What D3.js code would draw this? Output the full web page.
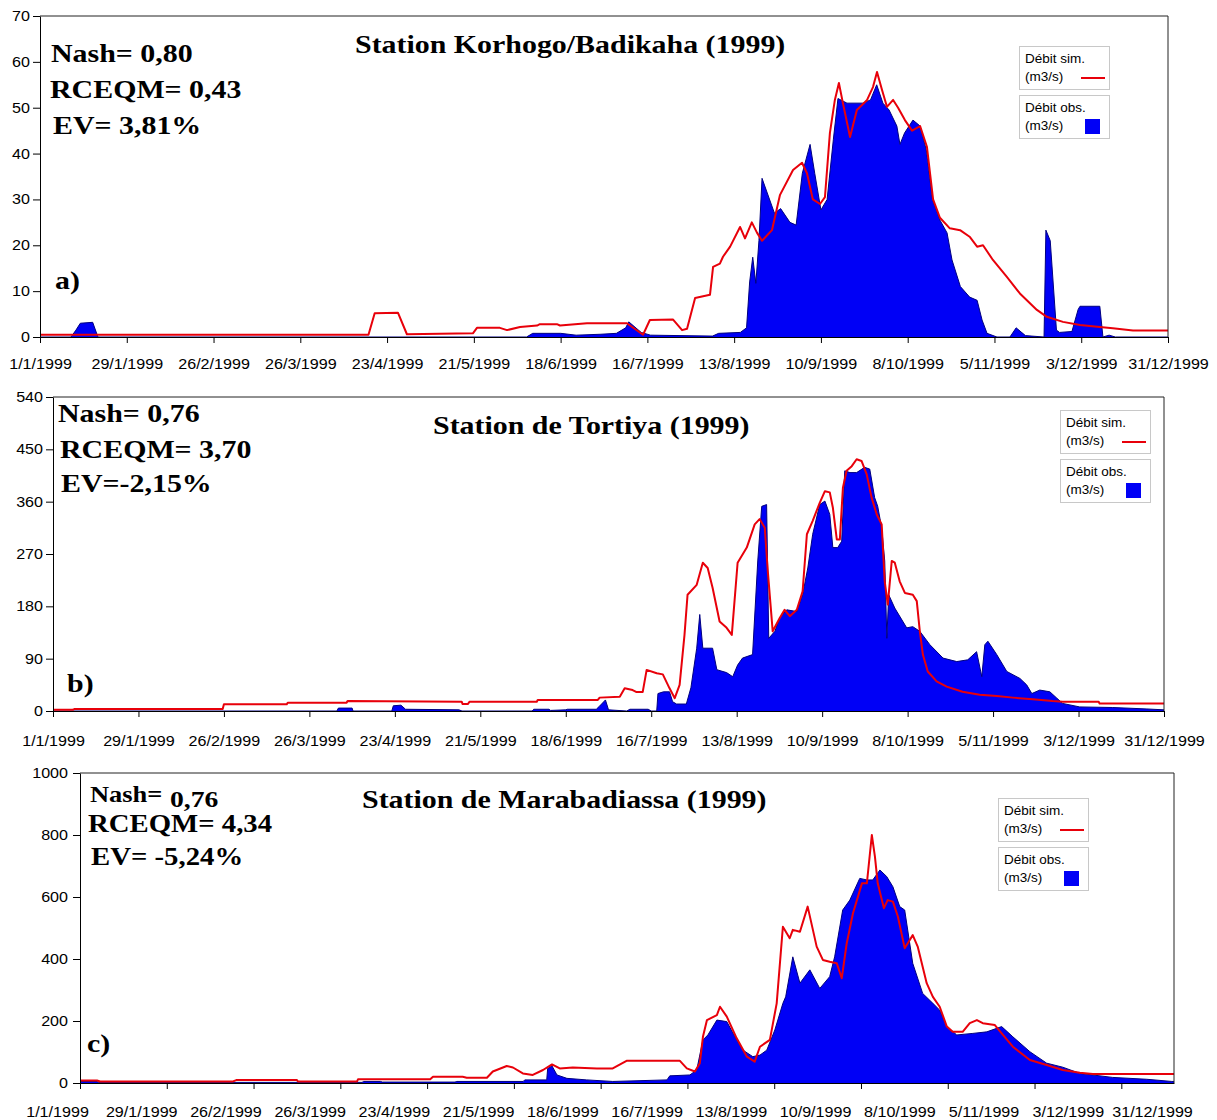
<!DOCTYPE html>
<html>
<head>
<meta charset="utf-8">
<script src="https://cdn.jsdelivr.net/npm/d3@7"></script>
<style>
  body { margin: 0; background: #fff; }
  text { fill: #000; }
</style>
</head>
<body>
<svg id="chart" width="1217" height="1120"></svg>
<script>
// day of year (0 = 1/1/1999), discharge m3/s
const simA = [[0,0.5],[106,0.5],[108,5.2],[115.5,5.3],[118.4,0.6],[139.7,0.8],[141,2],[148.4,2],[150.7,1.5],[154.9,2.2],[160.4,2.5],[161.3,2.8],[166.8,2.8],[167.8,2.5],[176.5,3],[189.4,3],[194.6,0.5],[196.8,3.7],[204.3,3.8],[207.2,1.5],[208.8,1.8],[211.4,8.5],[216.2,9.2],[217.2,15.3],[219.4,16],[220.4,17.5],[222.7,19.7],[225.9,24],[227.5,21.5],[229.7,25],[231.4,22.7],[233,21],[236.2,23.3],[238.8,31],[243,36.4],[245.9,38],[247.5,35.7],[249.4,30],[251.7,29],[253.3,30.5],[254.9,44.5],[256.5,51.7],[257.8,55.4],[259.1,51],[261.4,43.6],[263.6,49.5],[266.9,51.7],[268.8,54.5],[270.1,57.8],[271.7,53.9],[273.3,50.2],[275.3,51.7],[276.9,50],[279.1,47.3],[281.4,45],[284,46],[286.2,41.5],[288.2,30],[290.4,26],[293.6,23.7],[296.9,23.3],[300.1,21.8],[302.4,19.7],[304.3,20],[307.5,16.8],[312,13.1],[316.2,9.5],[321.7,5.9],[324.9,4.4],[330.1,3.3],[335.6,2.6],[342,2.2],[346.2,1.9],[352.7,1.4],[364,1.4]]
const obsA = [[0,0],[10,0],[11.6,1.5],[13,3],[17,3.2],[18.7,0],[157,0],[159,0.8],[168,0.8],[173,0.4],[181,0.6],[186,0.8],[189,2],[190,3.3],[194,1],[197,0.4],[217,0.2],[219,0.8],[226,1],[228,2],[229,12],[230,17.4],[231,11.7],[232,21],[233,34.6],[237,27],[239,28],[242,25],[244,24.4],[246,35.7],[248.5,42],[250,35.7],[252,27.7],[254,30],[256,43],[257.5,52],[260.4,51],[265.6,51],[268,51.7],[270,55],[272,51],[274,49.5],[276.5,46],[277.5,42],[279,44.5],[281.7,47.3],[284,46],[286,40.8],[288,30],[290.4,25.5],[292.7,22.7],[294.3,16.8],[297,11],[300,8.7],[302.4,8],[304,3.7],[305.6,0.8],[308.8,0],[313,0],[315,2],[318,0.3],[324,0],[324.6,23.3],[326,21],[328,1.5],[329,1],[333,1.2],[335,6],[335.6,6.7],[342,6.7],[343,0],[345,0.4],[347,0],[364,0]]

const simB = [[0,2],[6.5,2],[7.1,3.5],[55.6,3.5],[56,11.5],[76.6,11.5],[76.9,14.4],[96.2,14.4],[96.5,17],[133.9,16],[134.2,12],[135.9,12],[136.5,16],[158.5,16],[158.8,19],[178.5,19],[179.1,23],[185.7,24.7],[187.3,39],[189.9,36],[191.2,32.5],[193.2,32.5],[194.5,70.7],[197.8,65],[199.8,63],[202,39],[203.7,22],[205.3,45],[206.9,131],[207.9,200],[210.9,217],[212.9,255],[214.5,246],[216.1,212],[218.4,154],[220.7,143],[222.4,131],[224.3,255],[227.3,281],[229.9,321],[231.5,330],[233.2,315],[234.2,240],[235.8,137],[238.1,160],[239.7,174],[241.4,163],[243.7,174],[245.6,206],[247,304],[248.9,327],[251.2,358],[252.9,378],[254.5,376],[255.5,350],[256.8,295],[257.8,295],[258.8,384],[260,413],[261.7,421],[263.3,433],[264.9,430],[266.6,407],[268.2,367],[269.9,338],[271.5,321],[272.5,223],[273.5,183],[274.8,258],[275.8,255],[277.4,223],[279.1,203],[281.7,200],[283,189],[284,137],[285,97],[286.6,68],[289.5,51],[292.8,42],[298,33],[303.6,28],[309.2,26],[314.5,23],[321,20],[327.5,17],[330.8,16],[342.6,16],[342.9,13],[364,13]]
const obsB = [[0,0],[93,0],[93.5,5],[98,5],[98.3,0],[111,0],[111.5,9],[114,10],[115.5,3],[133,2],[134,0],[157,0],[157.5,3],[162.5,3],[163,1],[168,2],[168.5,3],[178,3],[179,8],[181,19],[182,2],[188,0],[189,3],[195,3],[196,0],[197.8,0],[198.2,30],[200,33],[202,33],[203,16],[204.3,12],[207.5,12],[209,40],[210.9,108],[211.9,166],[212.9,108],[216.1,108],[217.5,71],[220.7,66],[222.7,59],[224.3,79],[225.9,91],[229.2,97],[230.9,258],[232.2,352],[233.8,355],[234.5,125],[236.5,137],[238.1,160],[240.4,174],[243.7,171],[245.6,200],[247.3,246],[248.9,304],[251.2,355],[252.9,361],[254.5,338],[255.5,281],[257.1,281],[258.4,292],[259.4,413],[261.1,410],[263.3,410],[265.9,419],[267.6,416],[269.2,367],[270.2,352],[271.5,315],[272.5,258],[273.2,125],[273.8,200],[275.8,177],[279.7,143],[281.7,145],[284,137],[287.3,114],[291.6,91],[296.1,85],[299.7,88],[302.6,102],[304.3,59],[305.3,114],[306.3,120],[309.2,97],[312.5,68],[316.8,56],[319,45],[320.7,30],[323.3,36],[326.6,33],[328.9,22],[330.8,13],[336.4,7],[347.2,6],[358.4,3.5],[364,2]]

const simC = [[0,8],[5.5,8],[6.5,5],[49.4,5],[50.6,10],[70,10],[70.3,5],[89.4,5],[89.7,12],[113,12],[113.9,20],[123.5,20],[124.8,17],[131.3,17],[133.2,37],[137.7,55],[139.7,50],[142.9,31],[146.1,26],[149.4,42],[152.3,60],[154.8,47],[159,50],[166.8,47],[171.9,47],[176.5,72],[193.5,72],[195.8,47],[198.4,37],[200,64],[201,149],[202.3,203],[205.5,219],[206.5,246],[208.7,214],[211.9,144],[215.2,85],[217.7,69],[219.4,117],[222.6,139],[224.8,257],[226.8,504],[229,467],[230,494],[232.3,488],[234.8,569],[237.7,440],[239.7,397],[241.9,391],[244.2,386],[245.8,338],[247.4,451],[249.4,547],[252.3,644],[253.9,644],[255.5,800],[256.5,730],[257.4,644],[259.4,564],[260.6,590],[262.3,585],[263.9,537],[266.1,435],[267.1,451],[268.7,477],[270.3,440],[273.2,322],[275.2,278],[277.4,246],[279.7,182],[281.6,165],[284.8,165],[287.1,193],[289.4,203],[291.3,193],[295.2,187],[297.4,160],[301,117],[306.5,74],[311.9,58],[317.1,42],[322.6,33],[326.8,29],[353,29]]
const obsC = [[0,5],[5.5,5],[6,2],[91,2],[91.5,5],[97,5],[97.5,3],[121,3],[121.6,5],[143,5],[143.5,10],[150.6,10],[150.9,47],[152.3,55],[153.9,26],[157.1,15],[163.5,10],[171.9,5],[189.4,10],[190.3,23],[196.8,26],[199,42],[201,139],[202.6,155],[205.5,203],[208.7,198],[211.9,139],[213.9,106],[217.1,85],[219.4,90],[221.6,106],[224.2,171],[226.8,257],[227.7,278],[230,407],[232.3,322],[235.5,365],[238.7,305],[241.9,343],[243.5,407],[246.1,558],[248.4,590],[251.6,660],[253.9,655],[255.8,655],[258.1,687],[260.3,666],[262.3,633],[264.5,569],[266.1,558],[268.7,386],[271.9,289],[275.2,257],[277.4,235],[279.7,182],[282.9,155],[288.1,160],[292.6,165],[297.4,182],[301,149],[306.5,101],[311.9,64],[317.1,51],[322.6,31],[333.2,18],[344.2,12],[352.3,5],[353,5]]

const yTicksA = [0, 10, 20, 30, 40, 50, 60, 70]
const yTicksB = [0, 90, 180, 270, 360, 450, 540]
const yTicksC = [0, 200, 400, 600, 800, 1000]
const dateTicks = d3.range(0, 365, 28)   // 1/1 ... 31/12, every 4 weeks

const titles = ['Station Korhogo/Badikaha (1999)', 'Station de Tortiya (1999)', 'Station de Marabadiassa (1999)']
const statsA = ['Nash= 0,80', 'RCEQM= 0,43', 'EV= 3,81%']
const statsB = ['Nash= 0,76', 'RCEQM= 3,70', 'EV=-2,15%']
const statsC = ['Nash=', '0,76', 'RCEQM= 4,34', 'EV= -5,24%']
const tags = ['a)', 'b)', 'c)']
const legendSim = ['Débit sim.', '(m3/s)']
const legendObs = ['Débit obs.', '(m3/s)']

// layout (pixel positions of each panel); stats entries are [x, baseline, font size]
const SX = 1.15   // the source picture is stretched horizontally
const layout = [
  { l: 40, r: 1168, t: 16, b: 337, yMax: 70, dayEnd: 364, yPad: 3, xPad: 16,
    title: [355, 53], stats: [[51, 62, 26], [50, 98, 26], [53, 134, 26]], tag: [55, 289], legend: [1019, 46] },
  { l: 53, r: 1164, t: 397, b: 711, yMax: 540, dayEnd: 364, yPad: 3, xPad: 19,
    title: [433, 434], stats: [[58, 422, 26], [60, 458, 26], [61, 492, 26]], tag: [67, 692], legend: [1060, 410] },
  { l: 80, r: 1174, t: 773, b: 1083, yMax: 1000, dayEnd: 353, yPad: 5, xPad: 24,
    title: [362, 808], stats: [[90, 802, 23], [170, 807, 24], [88, 832, 25], [91, 865, 25]], tag: [87, 1052], legend: [998, 798],
    labelRange: [57, 1152] }
]

const svg = d3.select('#chart')
const fmt = d3.timeFormat('%-d/%-m/%Y')
const dayLabel = d => fmt(new Date(1999, 0, 1 + d))

function stretch (sel) {
  sel.each(function () {
    this.setAttribute('textLength', this.getComputedTextLength() * SX)
    this.setAttribute('lengthAdjust', 'spacingAndGlyphs')
  })
}

function bigText (g, str, pos, size) {
  return g.append('text')
    .attr('x', pos[0]).attr('y', pos[1])
    .attr('font-family', '"Liberation Serif", "Times New Roman", serif')
    .attr('font-weight', 'bold')
    .attr('font-size', size || 26)
    .text(str)
    .call(stretch)
}

function drawPanel (p, sim, obs, yTicks, title, stats, tag) {
  const x = d3.scaleLinear().domain([0, p.dayEnd]).range([p.l, p.r])
  const y = d3.scaleLinear().domain([0, p.yMax]).range([p.b, p.t])
  const g = svg.append('g')

  // observed flow, filled
  g.append('path').datum(obs)
    .attr('d', d3.area().x(d => x(d[0])).y0(y(0)).y1(d => y(d[1])))
    .attr('fill', '#0000f6')
  g.append('path').datum(obs)
    .attr('d', d3.line().x(d => x(d[0])).y(d => y(d[1])))
    .attr('fill', 'none').attr('stroke', '#000080').attr('stroke-width', 1)

  // simulated flow
  g.append('path').datum(sim)
    .attr('d', d3.line().x(d => x(d[0])).y(d => y(d[1])))
    .attr('fill', 'none').attr('stroke', '#e8000a').attr('stroke-width', 2)
    .attr('stroke-linejoin', 'round')

  // frame top / right
  g.append('path')
    .attr('d', `M${p.l},${p.t}H${p.r}V${p.b}`)
    .attr('fill', 'none').attr('stroke', '#222')

  const xAxis = d3.axisBottom(x)
    .tickValues(dateTicks.filter(d => d <= p.dayEnd))
    .tickSize(6).tickSizeOuter(0).tickPadding(p.xPad)
    .tickFormat(p.labelRange ? '' : dayLabel)
  const gx = g.append('g').attr('transform', `translate(0,${p.b})`).call(xAxis)

  const yAxis = d3.axisLeft(y).tickValues(yTicks)
    .tickSize(7).tickSizeOuter(0).tickPadding(p.yPad)
    .tickFormat(d3.format('d'))
  const gy = g.append('g').attr('transform', `translate(${p.l},0)`).call(yAxis)

  // bottom panel: labels are spread on their own spacing
  let gl = null
  if (p.labelRange) {
    const xl = d3.scaleLinear().domain([0, 364]).range(p.labelRange)
    gl = g.append('g').attr('transform', `translate(0,${p.b})`)
      .call(d3.axisBottom(xl).tickValues(dateTicks).tickSize(0).tickPadding(p.xPad).tickFormat(dayLabel))
    gl.select('.domain').remove()
  }

  for (const a of [gx, gy, gl]) {
    if (!a) continue
    a.attr('font-family', '"Liberation Sans", Arial, sans-serif').attr('font-size', 14)
    a.selectAll('path, line').attr('stroke', '#000')
    a.selectAll('text').call(stretch)
  }

  bigText(g, title, p.title)
  stats.forEach((s, i) => bigText(g, s, p.stats[i], p.stats[i][2]))
  bigText(g, tag, p.tag)

  // legend
  const [lx, ly] = p.legend
  const items = [{ lab: legendSim, kind: 'line' }, { lab: legendObs, kind: 'box' }]
  items.forEach((it, i) => {
    const top = ly + i * 49
    const lg = g.append('g').attr('transform', `translate(${lx},${top})`)
    lg.append('rect').attr('x', 0.5).attr('y', 0.5).attr('width', 90).attr('height', 43)
      .attr('fill', '#fff').attr('stroke', '#c8c8c8')
    lg.selectAll('text').data(it.lab).join('text')
      .attr('x', 6).attr('y', (d, j) => 17 + j * 18)
      .attr('font-family', '"Liberation Sans", Arial, sans-serif').attr('font-size', 13.5)
      .text(d => d)
    if (it.kind === 'line') {
      lg.append('line').attr('x1', 62).attr('x2', 86).attr('y1', 32).attr('y2', 32)
        .attr('stroke', '#e8000a').attr('stroke-width', 2)
    } else {
      lg.append('rect').attr('x', 66).attr('y', 24).attr('width', 15).attr('height', 15)
        .attr('fill', '#0000f6')
    }
  })
}

drawPanel(layout[0], simA, obsA, yTicksA, titles[0], statsA, tags[0])
drawPanel(layout[1], simB, obsB, yTicksB, titles[1], statsB, tags[1])
drawPanel(layout[2], simC, obsC, yTicksC, titles[2], statsC, tags[2])
</script>
</body>
</html>
